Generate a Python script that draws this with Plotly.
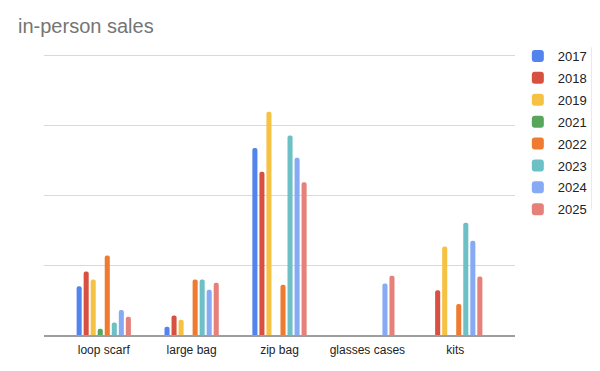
import plotly.graph_objects as go

categories = ["loop scarf", "large bag", "zip bag", "glasses cases", "kits"]
years = ["2017", "2018", "2019", "2021", "2022", "2023", "2024", "2025"]

s2017 = [7.0, 1.2, 26.8, None, None]
s2018 = [9.1, 2.8, 23.4, None, 6.4]
s2019 = [7.95, 2.2, 32.0, None, 12.7]
s2021 = [0.9, None, None, None, None]
s2022 = [11.4, 7.95, 7.2, None, 4.45]
s2023 = [1.8, 7.95, 28.6, None, 16.1]
s2024 = [3.6, 6.5, 25.4, 7.4, 13.5]
s2025 = [2.6, 7.5, 21.9, 8.5, 8.4]

series = [s2017, s2018, s2019, s2021, s2022, s2023, s2024, s2025]
colors = ["#5383ec", "#d85140", "#f6c243", "#58a55c", "#ef7b30",
          "#6cc0c6", "#86aaf3", "#e6807a"]

fig = go.Figure()
for name, vals, col in zip(years, series, colors):
    fig.add_trace(go.Bar(
        x=list(range(len(categories))), y=vals, name=name, legendgroup=name,
        marker=dict(color=col, line=dict(width=0), cornerradius=2),
    ))

# page body has an 8px default margin, so the figure is offset by 8px and sized to fit
fig.update_layout(
    width=584, height=350,
    margin=dict(l=36, r=77, t=41, b=23, autoexpand=False),
    paper_bgcolor="white", plot_bgcolor="white",
    barmode="group", bargap=0.36, bargroupgap=0.28,
    title=dict(text="in-person sales", x=10 / 584, xref="container", xanchor="left",
               y=1 - 18 / 350, yref="container", yanchor="middle", pad=dict(l=0, t=0, b=0, r=0),
               font=dict(family="Liberation Sans, Arial, sans-serif", size=20, color="#757575")),
    font=dict(family="Liberation Sans, Arial, sans-serif", size=12, color="#222222"),
    showlegend=True,
    legend=dict(x=1.006, xanchor="left", y=1.028, yanchor="top",
                font=dict(size=13, color="#222222"), itemwidth=30,
                tracegroupgap=2, bgcolor="rgba(0,0,0,0)"),
    xaxis=dict(tickmode="array", tickvals=list(range(len(categories))), ticktext=categories,
               range=[-0.68, 4.68], showgrid=False, zeroline=False,
               showline=True, linecolor="#9e9e9e", linewidth=1.5, ticks="",
               ticklabelstandoff=3, tickfont=dict(size=12, color="#222222")),
    yaxis=dict(range=[0, 41], tickvals=[10, 20, 30, 40], showgrid=True, gridcolor="#d9d9d9", gridwidth=1,
               zeroline=False, showticklabels=False, ticks=""),
)

fig.write_html(
    "out.html",
    config={"displayModeBar": False},
    post_script="document.documentElement.style.overflow='hidden';document.body.style.overflow='hidden';",
)
